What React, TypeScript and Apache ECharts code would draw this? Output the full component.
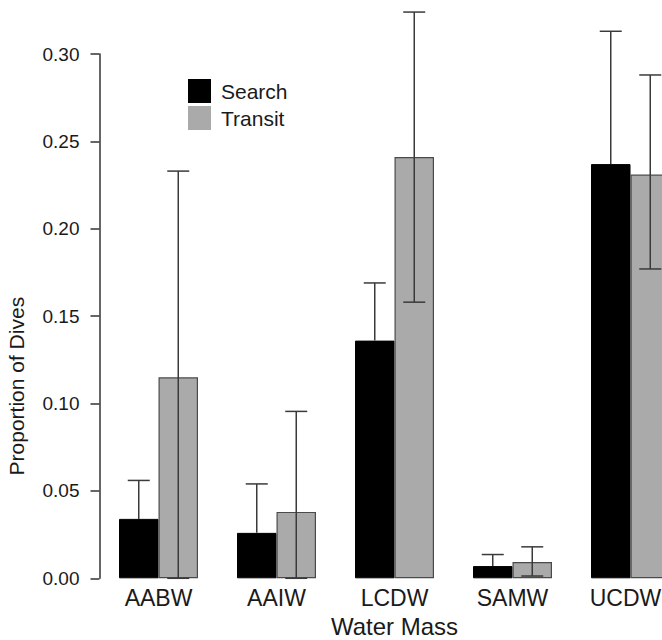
import React, { useEffect, useRef } from "react";
import * as echarts from "echarts";

const categories = ["AABW", "AAIW", "LCDW", "SAMW", "UCDW"];
const searchValues = [0.034, 0.026, 0.136, 0.007, 0.237];
const searchUpper = [0.056, 0.054, 0.169, 0.0136, 0.313];
const transitValues = [0.115, 0.038, 0.241, 0.0093, 0.231];
const transitUpper = [0.233, 0.0955, 0.324, 0.018, 0.288];
const transitLower = [0, 0, 0.158, 0.0013, 0.177];
const seriesNames = ["Search", "Transit"];

const BAR_WIDTH = 39.5;
const CAP_HALF = 11;
const FONT = "'Liberation Sans', Arial, Helvetica, sans-serif";

function errorRender(offset: number, bottomCap: boolean) {
  return (params: any, api: any) => {
    const idx = api.value(0);
    const lo = api.value(1);
    const hi = api.value(2);
    const p0 = api.coord([idx, lo]);
    const p1 = api.coord([idx, hi]);
    const x = p0[0] + offset;
    const style = { stroke: "#3a3a3a", lineWidth: 1.5 };
    const children: any[] = [
      { type: "line", shape: { x1: x, y1: p0[1], x2: x, y2: p1[1] }, style },
      { type: "line", shape: { x1: x - CAP_HALF, y1: p1[1], x2: x + CAP_HALF, y2: p1[1] }, style },
    ];
    if (bottomCap) {
      children.push({ type: "line", shape: { x1: x - CAP_HALF, y1: p0[1], x2: x + CAP_HALF, y2: p0[1] }, style });
    }
    return { type: "group", children };
  };
}

export default function App() {
  const ref = useRef<HTMLDivElement>(null);
  useEffect(() => {
    if (!ref.current) return;
    const chart = echarts.init(ref.current, null, { renderer: "svg" });
    const lastIndex = categories.length - 1;
    chart.setOption({
      animation: false,
      backgroundColor: "#ffffff",
      textStyle: { fontFamily: FONT },
      grid: { left: 99.5, right: 10.5, top: 54, bottom: 61.7, containLabel: false, outerBoundsMode: "none" },
      legend: {
        data: seriesNames,
        orient: "vertical",
        left: 188,
        top: 79,
        padding: 0,
        itemGap: 3,
        itemWidth: 23,
        itemHeight: 24,
        icon: "rect",
        itemStyle: { borderWidth: 0 },
        textStyle: { fontSize: 21, color: "#1a1a1a", fontFamily: FONT, padding: [0, 0, 0, 5] },
      },
      xAxis: {
        type: "category",
        data: categories,
        name: "Water Mass",
        nameLocation: "middle",
        nameGap: 36,
        nameTextStyle: { fontSize: 24, color: "#1a1a1a", fontFamily: FONT, lineHeight: 24 },
        axisLine: { show: false },
        axisTick: { show: false },
        axisLabel: {
          interval: 0,
          hideOverlap: false,
          fontSize: 23,
          color: "#1a1a1a",
          margin: 8,
          fontFamily: FONT,
          formatter: (v: string, i: number) => (i === lastIndex ? "{edge|" + v + "}" : v),
          rich: {
            edge: { fontSize: 23, color: "#1a1a1a", fontFamily: FONT, padding: [0, 10, 0, 0] },
          },
        },
        splitLine: { show: false },
      },
      yAxis: {
        type: "value",
        min: 0,
        max: 0.3,
        interval: 0.05,
        name: "Proportion of Dives",
        nameLocation: "middle",
        nameRotate: 90,
        nameGap: 73,
        nameTextStyle: { fontSize: 21, color: "#1a1a1a", fontFamily: FONT, padding: [0, 140, 0, 0] },
        axisLine: { show: true, lineStyle: { color: "#333", width: 1.5 } },
        axisTick: { show: true, length: 9, lineStyle: { color: "#333", width: 1.5 } },
        axisLabel: {
          fontSize: 19,
          color: "#1a1a1a",
          margin: 20,
          fontFamily: FONT,
          formatter: (v: number) => v.toFixed(2),
        },
        splitLine: { show: false },
      },
      series: [
        {
          name: seriesNames[0],
          type: "bar",
          data: searchValues,
          barWidth: BAR_WIDTH,
          barGap: "0%",
          itemStyle: { color: "#000000", borderColor: "#000000", borderWidth: 1 },
        },
        {
          name: seriesNames[1],
          type: "bar",
          data: transitValues,
          barWidth: BAR_WIDTH,
          barGap: "0%",
          itemStyle: { color: "#aaaaaa", borderColor: "#4a4a4a", borderWidth: 1.2 },
        },
        {
          name: "Search error",
          type: "custom",
          clip: false,
          z: 5,
          renderItem: errorRender(-BAR_WIDTH / 2, false),
          data: categories.map((_, i) => [i, searchValues[i], searchUpper[i]]),
        },
        {
          name: "Transit error",
          type: "custom",
          clip: false,
          z: 5,
          renderItem: errorRender(BAR_WIDTH / 2, true),
          data: categories.map((_, i) => [i, transitLower[i], transitUpper[i]]),
        },
      ],
    });
    return () => chart.dispose();
  }, []);
  return (
    <div style={{ position: "absolute", left: 0, top: 0, width: 662, height: 640, overflow: "hidden", background: "#fff" }}>
      <div ref={ref} style={{ width: 700, height: 640 }} />
    </div>
  );
}
